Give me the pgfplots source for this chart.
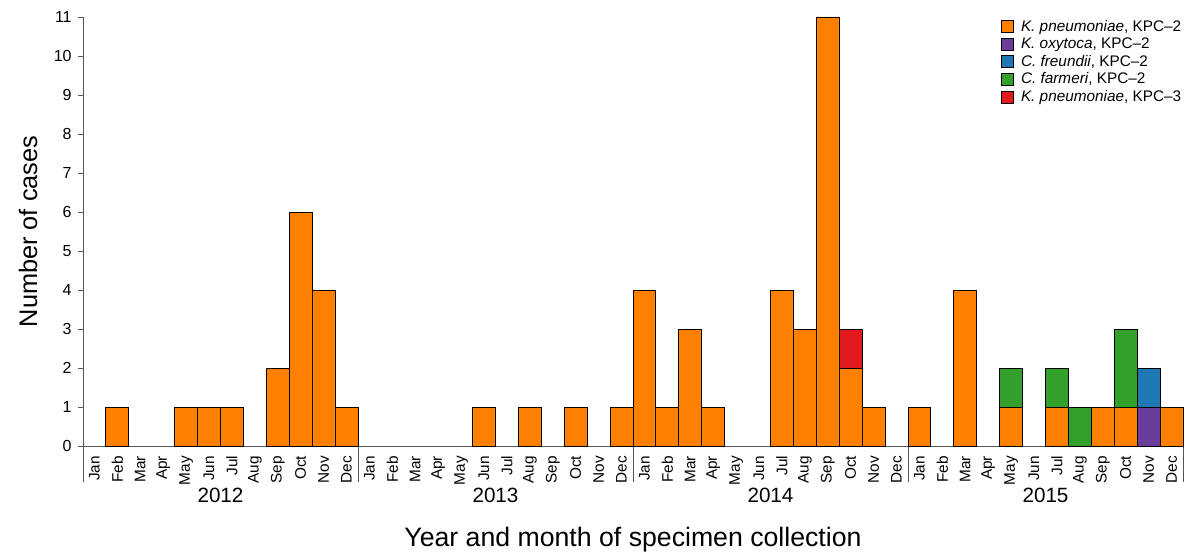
\documentclass[border=0pt]{standalone}
\usepackage{fontspec}
\setmainfont{Liberation Sans}
\usepackage{pgfplots}
\pgfplotsset{compat=1.18}
\definecolor{cora}{HTML}{FF7F00}
\definecolor{cpur}{HTML}{6A3D9A}
\definecolor{cblu}{HTML}{1F78B4}
\definecolor{cgrn}{HTML}{33A02C}
\definecolor{cred}{HTML}{E31A1C}
\definecolor{axg}{HTML}{555555}
\pgfplotstableread{
x ora pur blu grn red
0 0 0 0 0 0
1 1 0 0 0 0
2 0 0 0 0 0
3 0 0 0 0 0
4 1 0 0 0 0
5 1 0 0 0 0
6 1 0 0 0 0
7 0 0 0 0 0
8 2 0 0 0 0
9 6 0 0 0 0
10 4 0 0 0 0
11 1 0 0 0 0
12 0 0 0 0 0
13 0 0 0 0 0
14 0 0 0 0 0
15 0 0 0 0 0
16 0 0 0 0 0
17 1 0 0 0 0
18 0 0 0 0 0
19 1 0 0 0 0
20 0 0 0 0 0
21 1 0 0 0 0
22 0 0 0 0 0
23 1 0 0 0 0
24 4 0 0 0 0
25 1 0 0 0 0
26 3 0 0 0 0
27 1 0 0 0 0
28 0 0 0 0 0
29 0 0 0 0 0
30 4 0 0 0 0
31 3 0 0 0 0
32 11 0 0 0 0
33 2 0 0 0 1
34 1 0 0 0 0
35 0 0 0 0 0
36 1 0 0 0 0
37 0 0 0 0 0
38 4 0 0 0 0
39 0 0 0 0 0
40 1 0 0 1 0
41 0 0 0 0 0
42 1 0 0 1 0
43 0 0 0 1 0
44 1 0 0 0 0
45 1 0 0 2 0
46 0 1 1 0 0
47 1 0 0 0 0
}\datatable
\begin{document}
\begin{tikzpicture}
\path[use as bounding box] (-62.25pt,-81pt) rectangle (832.5pt,334.5pt);
\begin{axis}[
  at={(0,0)}, anchor=south west,
  scale only axis, width=825pt, height=321.75pt,
  clip=false,
  ybar stacked, bar width=1,
  xmin=-0.5, xmax=47.5, ymin=0, ymax=11,
  axis x line*=bottom, axis y line*=left,
  axis line style={axg, line width=0.6pt},
  every tick/.style={axg, line width=0.6pt},
  tick align=outside,
  major tick length=3.5pt, minor tick length=4pt,
  ytick={0,...,11},
  xtick={0,...,47},
  xtick style={draw=none},
  minor xtick={-0.5,0.5,...,47.5},
  xticklabels={Jan,Feb,Mar,Apr,May,Jun,Jul,Aug,Sep,Oct,Nov,Dec,Jan,Feb,Mar,Apr,May,Jun,Jul,Aug,Sep,Oct,Nov,Dec,Jan,Feb,Mar,Apr,May,Jun,Jul,Aug,Sep,Oct,Nov,Dec,Jan,Feb,Mar,Apr,May,Jun,Jul,Aug,Sep,Oct,Nov,Dec},
  xticklabel style={rotate=90, anchor=east, font=\fontsize{11.5}{13}\selectfont},
  xticklabel shift=0.5pt,
  yticklabel style={font=\fontsize{12}{14}\selectfont},
  yticklabel shift=1.5pt,
  /pgf/number format/assume math mode=true,
  xlabel={Year and month of specimen collection},
  xlabel style={at={(axis description cs:0.5,-0.2191)}, anchor=center, font=\fontsize{20}{24}\selectfont},
  ylabel={Number of cases},
  ylabel style={at={(axis description cs:-0.0500,0.5)}, anchor=center, font=\fontsize{19}{22}\selectfont},
  legend style={at={(rel axis cs:0.834,1.0)}, anchor=north west, draw=none, fill=none,
    font=\fontsize{11.5}{13}\selectfont, inner sep=0pt, row sep=-0.5pt, cells={anchor=west}},
  legend image code/.code={\draw[#1,draw=black,line width=0.5pt] (0pt,-4.5pt) rectangle (9pt,4.5pt); \path[draw=none,fill=none] (0pt,-0.1pt) rectangle (13pt,0.1pt);},
]
\addplot[fill=cora, draw=black, line width=0.7pt] table[x=x, y=ora] {\datatable};
\addplot[fill=cpur, draw=black, line width=0.7pt] table[x=x, y=pur] {\datatable};
\addplot[fill=cblu, draw=black, line width=0.7pt] table[x=x, y=blu] {\datatable};
\addplot[fill=cgrn, draw=black, line width=0.7pt] table[x=x, y=grn] {\datatable};
\addplot[fill=cred, draw=black, line width=0.7pt] table[x=x, y=red] {\datatable};
\legend{{\textit{K. pneumoniae}, KPC--2}, {\textit{K. oxytoca}, KPC--2}, {\textit{C. freundii}, KPC--2}, {\textit{C. farmeri}, KPC--2}, {\textit{K. pneumoniae}, KPC--3}}
\draw[axg, line width=0.6pt] (axis cs:-0.5,0) -- (axis cs:-0.5,-0.923);
\draw[axg, line width=0.6pt] (axis cs:11.5,0) -- (axis cs:11.5,-0.923);
\draw[axg, line width=0.6pt] (axis cs:23.5,0) -- (axis cs:23.5,-0.923);
\draw[axg, line width=0.6pt] (axis cs:35.5,0) -- (axis cs:35.5,-0.923);
\draw[axg, line width=0.6pt] (axis cs:47.5,0) -- (axis cs:47.5,-0.923);
\node[font=\fontsize{15.5}{18}\selectfont] at (axis cs:5.5,-1.256) {2012};
\node[font=\fontsize{15.5}{18}\selectfont] at (axis cs:17.5,-1.256) {2013};
\node[font=\fontsize{15.5}{18}\selectfont] at (axis cs:29.5,-1.256) {2014};
\node[font=\fontsize{15.5}{18}\selectfont] at (axis cs:41.5,-1.256) {2015};
\end{axis}
\end{tikzpicture}
\end{document}
